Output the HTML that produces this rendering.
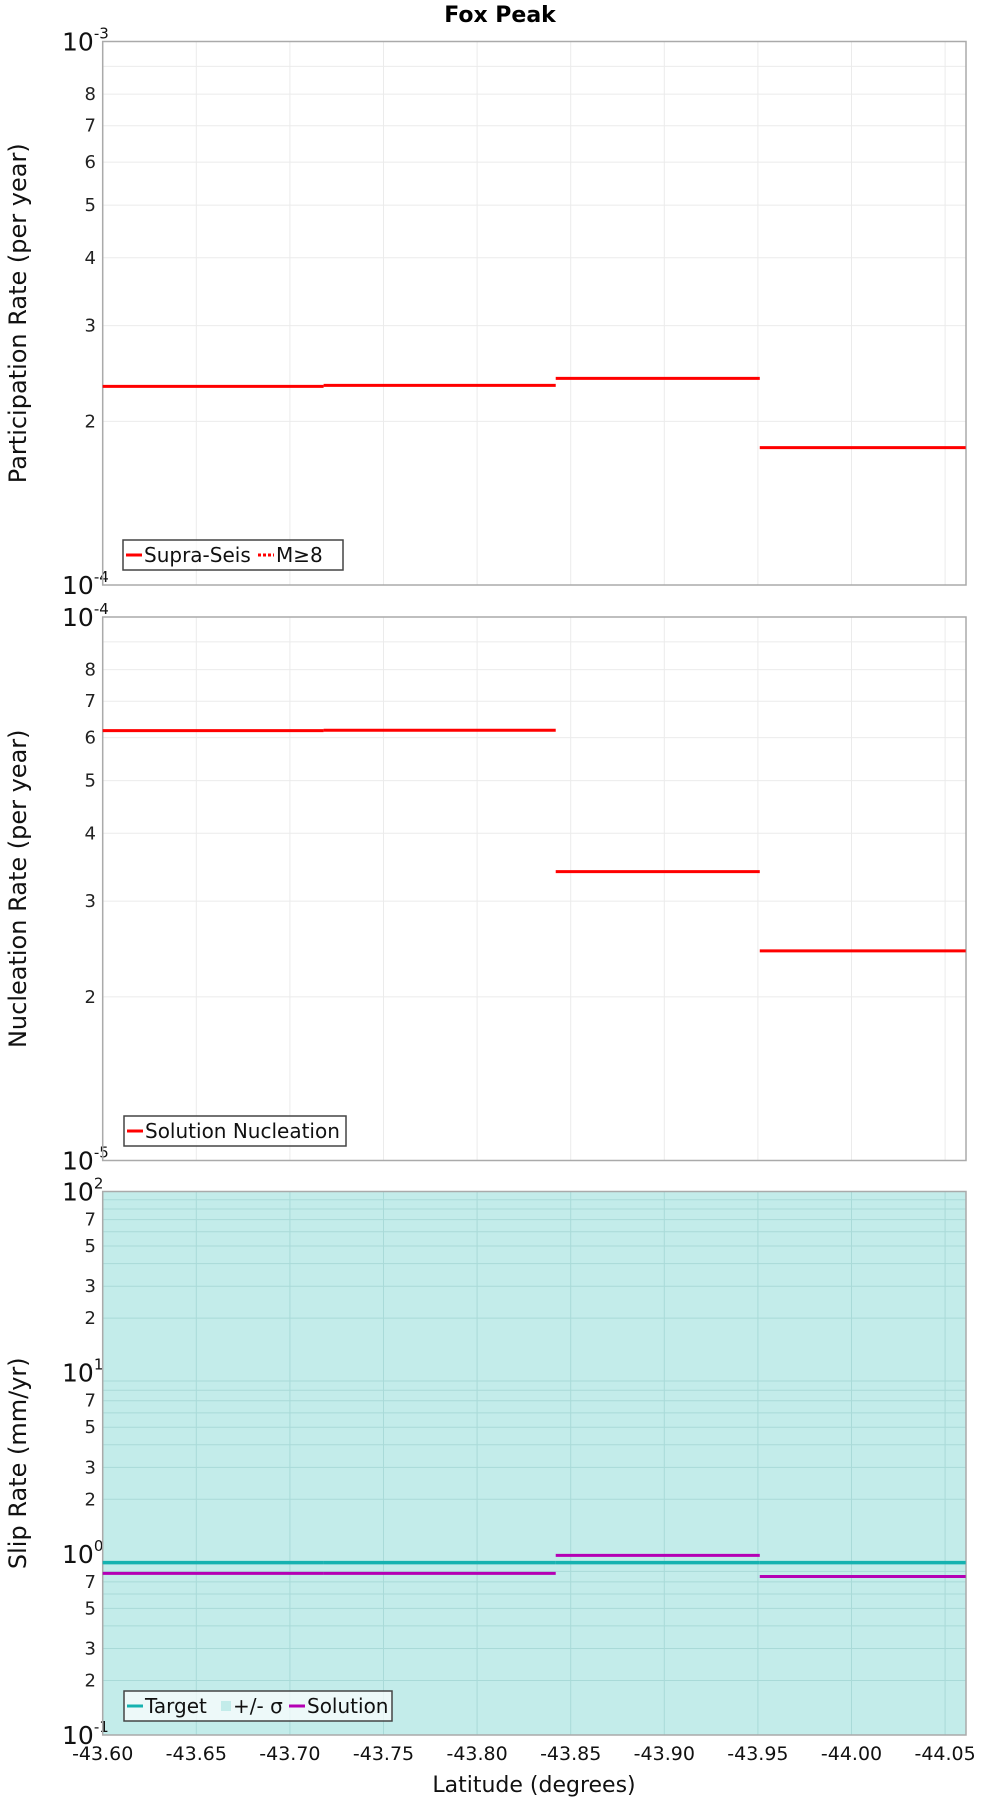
<!DOCTYPE html>
<html><head><meta charset="utf-8"><style>
body{margin:0;background:#fff;}
svg{display:block;font-family:"DejaVu Sans","Liberation Sans",sans-serif;}
</style></head><body>
<svg id="c" width="1000" height="1800" xmlns="http://www.w3.org/2000/svg"></svg>
<script>
const latEdges = [-43.600, -43.718, -43.842, -43.951, -44.061];
const partRates = [2.32e-4, 2.33e-4, 2.40e-4, 1.79e-4];
const nuclRates = [6.18e-5, 6.19e-5, 3.40e-5, 2.43e-5];
const slipTarget = [0.894, 0.894, 0.894, 0.894];
const slipSolution = [0.78, 0.78, 0.98, 0.75];
const xTicks = [-43.60, -43.65, -43.70, -43.75, -43.80, -43.85, -43.90, -43.95, -44.00, -44.05];
const xTickLabels = ["-43.60","-43.65","-43.70","-43.75","-43.80","-43.85","-43.90","-43.95","-44.00","-44.05"];

const NS = "http://www.w3.org/2000/svg";
const svg = document.getElementById('c');
const L = 102.7, R = 966;
const x = v => L + (-43.60 - v) * 1872;
function mk(tag, attrs, parent) {
  const e = document.createElementNS(NS, tag);
  for (const k in attrs) e.setAttribute(k, attrs[k]);
  (parent || svg).appendChild(e);
  return e;
}
function txt(s, attrs, parent) { const e = mk('text', attrs, parent); e.textContent = s; return e; }

const title = txt('Fox Peak', {x: 500, y: 22, 'text-anchor': 'middle', 'font-size': 22, 'font-weight': 'bold'});



function panel(name, top, bot, lo, hi, bg, gridCol, minorLabels, ytitle) {
  const g = mk('g', {});
  
  
  const dec = hi - lo, h = bot - top;
  const y = v => bot - (Math.log10(v) - lo) / dec * h;
  mk('rect', {x: L, y: top, width: R - L, height: h, fill: bg}, g);
  for (let d = lo; d < hi; d++) {
    for (let m = 2; m <= 9; m++) {
      const yy = y(m * Math.pow(10, d));
      const gl = mk('line', {x1: L, x2: R, y1: yy, y2: yy, stroke: gridCol, 'stroke-width': 1}, g);
      
      
      if (minorLabels.includes(m)) {
        const t = txt(String(m), {x: 96, y: yy + 6, 'text-anchor': 'end', 'font-size': 18, fill: '#222'}, g);
        
        
      }
    }
  }
  for (let d = lo; d <= hi; d++) {
    const yy = y(Math.pow(10, d));
    const t = mk('text', {x: 62, y: yy + 9, 'font-size': 25, fill: '#111'}, g);
    
    
    t.textContent = '10';
    const s = mk('tspan', {dy: -12, 'font-size': 15}, t);
    s.textContent = String(d);
  }
  xTicks.forEach(v => {
    const gl = mk('line', {x1: x(v), x2: x(v), y1: top, y2: bot, stroke: gridCol, 'stroke-width': 1}, g);
    
    
  });
  const fr = mk('rect', {x: L, y: top, width: R - L, height: h, fill: 'none', stroke: '#aaa', 'stroke-width': 1.5}, g);
  
  
  const yt = txt(ytitle, {x: 0, y: 0, transform: `translate(26,${(top + bot) / 2}) rotate(-90)`, 'text-anchor': 'middle', 'font-size': 24, fill: '#111'}, g);
  
  
  return {g, y};
}
function steps(p, vals, color, w, name) {
  vals.forEach((v, i) => {
    const l = mk('line', {x1: x(latEdges[i]), x2: x(latEdges[i + 1]), y1: p.y(v), y2: p.y(v), stroke: color, 'stroke-width': w}, p.g);
    
    
  });
}
function legend(p, bx, by, bw, items) {
  const lg = mk('g', {}, p.g);
  
  
  mk('rect', {x: bx, y: by, width: bw, height: 30, fill: '#fff', 'fill-opacity': 0.7, stroke: '#444', 'stroke-width': 1.5}, lg);
  let cx = bx + 3;
  items.forEach(it => {
    const e = mk('g', {}, lg);
    
    
    if (it.box) mk('rect', {x: cx, y: by + 10, width: 10, height: 10, fill: it.color}, e);
    else mk('line', {x1: cx, x2: cx + 16, y1: by + 15, y2: by + 15, stroke: it.color, 'stroke-width': 3, 'stroke-dasharray': it.dash || 'none'}, e);
    cx += it.box ? 12 : 18;
    txt(it.label, {x: cx, y: by + 22, 'font-size': 20, fill: '#111'}, e);
    cx += it.w;
  });
}

const p1 = panel('participation-panel', 41.5, 585, -4, -3, '#fff', '#ebebeb', [2,3,4,5,6,7,8], 'Participation Rate (per year)');
steps(p1, partRates, '#ff0000', 3, 'supra-seis-segment');
legend(p1, 123, 540, 220, [{color: '#ff0000', label: 'Supra-Seis', w: 114}, {color: '#ff0000', label: 'M≥8', w: 50, dash: '3,2'}]);

const p2 = panel('nucleation-panel', 617, 1160.5, -5, -4, '#fff', '#ebebeb', [2,3,4,5,6,7,8], 'Nucleation Rate (per year)');
steps(p2, nuclRates, '#ff0000', 3, 'nucleation-segment');
legend(p2, 124, 1116, 222, [{color: '#ff0000', label: 'Solution Nucleation', w: 192}]);

const p3 = panel('slip-rate-panel', 1191.5, 1735, -1, 2, '#c3ecea', '#a9dad8', [2,3,5,7], 'Slip Rate (mm/yr)');
steps(p3, slipTarget, '#16b2b0', 3.5, 'target-segment');
steps(p3, slipSolution, '#b400b4', 3, 'solution-segment');
legend(p3, 124, 1691, 268, [{color: '#16b2b0', label: 'Target', w: 76}, {color: '#c3ecea', label: '+/- σ', w: 56, box: true}, {color: '#b400b4', label: 'Solution', w: 90}]);

xTicks.forEach((v, i) => {
  const t = txt(xTickLabels[i], {x: x(v), y: 1760, 'text-anchor': 'middle', 'font-size': 19, fill: '#111'});
  
  
});
const xt = txt('Latitude (degrees)', {x: 534, y: 1792, 'text-anchor': 'middle', 'font-size': 22, fill: '#111'});


</script>
</body></html>
